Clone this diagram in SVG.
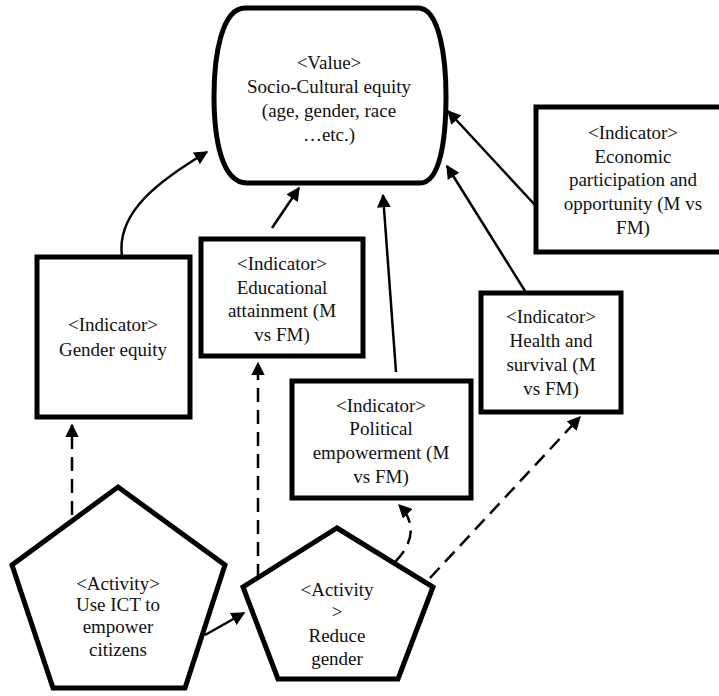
<svg xmlns="http://www.w3.org/2000/svg" width="719" height="696" viewBox="0 0 719 696">
<style>
.n{fill:#fff;stroke:#000;stroke-width:5;stroke-linejoin:miter}
text{font-family:'Liberation Serif','Times New Roman','DejaVu Serif',serif;font-size:19px;fill:#111;text-anchor:middle}
.c{fill:none;stroke:#000;stroke-width:2.5}
.d{stroke-dasharray:14 8}
</style>
<defs>
<marker id="a" viewBox="0 0 10 10" refX="9" refY="5" markerWidth="5.5" markerHeight="5.5" orient="auto" markerUnits="strokeWidth">
<path d="M0,0 L10,5 L0,10 Z" fill="#000"/>
</marker>
</defs>
<rect width="719" height="696" fill="#fff"/>
<g id="connectors">
<path class="c" d="M122,256 C116,212 160,180 207,152" marker-end="url(#a)"/>
<path class="c" d="M272,228 L299,188" marker-end="url(#a)"/>
<path class="c" d="M396,372 L383,195" marker-end="url(#a)"/>
<path class="c" d="M525,291 L447,166" marker-end="url(#a)"/>
<path class="c" d="M535,205 L448,111" marker-end="url(#a)"/>
<path class="c d" d="M72,515 L72,425" marker-end="url(#a)"/>
<path class="c d" d="M258,578 L258,363" marker-end="url(#a)"/>
<path class="c" d="M205,635 L244,613" marker-end="url(#a)"/>
<path class="c d" d="M395,562 C412,545 418,524 399,505" marker-end="url(#a)"/>
<path class="c d" d="M430,578 L580,417" marker-end="url(#a)"/>
</g>
<g id="value">
<path class="n" d="M245,8 H418 C440,8 446,60 446,96 C446,140 440,183 420,183 H247 C222,183 214,140 214,96 C214,55 222,8 245,8 Z"/>
<text x="329" y="69" font-family="Liberation Serif, serif">&lt;Value&gt;</text>
<text x="329" y="93">Socio-Cultural equity</text>
<text x="329" y="117">(age, gender, race</text>
<text x="329" y="141">…etc.)</text>
</g>
<g id="gender">
<rect class="n" x="37" y="257" width="153" height="160"/>
<text x="113" y="331">&lt;Indicator&gt;</text>
<text x="113" y="356">Gender equity</text>
</g>
<g id="education">
<rect class="n" x="201" y="239" width="162" height="117"/>
<text x="282" y="270">&lt;Indicator&gt;</text>
<text x="282" y="294">Educational</text>
<text x="282" y="317">attainment (M</text>
<text x="282" y="341">vs FM)</text>
</g>
<g id="political">
<rect class="n" x="292" y="381" width="179" height="117"/>
<text x="381" y="412">&lt;Indicator&gt;</text>
<text x="381" y="435">Political</text>
<text x="381" y="459">empowerment (M</text>
<text x="381" y="483">vs FM)</text>
</g>
<g id="health">
<rect class="n" x="481" y="293" width="140" height="119"/>
<text x="551" y="323">&lt;Indicator&gt;</text>
<text x="551" y="347">Health and</text>
<text x="551" y="371">survival (M</text>
<text x="551" y="395">vs FM)</text>
</g>
<g id="economic">
<rect class="n" x="536" y="107" width="200" height="145"/>
<text x="633" y="139">&lt;Indicator&gt;</text>
<text x="633" y="163">Economic</text>
<text x="633" y="186">participation and</text>
<text x="633" y="210">opportunity (M vs</text>
<text x="633" y="234">FM)</text>
</g>
<g id="activity-ict">
<polygon class="n" points="118,487 225,565 185,688 53,688 12,565"/>
<text x="118" y="590">&lt;Activity&gt;</text>
<text x="118" y="611">Use ICT to</text>
<text x="118" y="633">empower</text>
<text x="118" y="656">citizens</text>
</g>
<g id="activity-gender">
<polygon class="n" points="337,528 433,587 398,679 278,679 243,587"/>
<text x="337" y="596">&lt;Activity</text>
<text x="337" y="618">&gt;</text>
<text x="337" y="642">Reduce</text>
<text x="337" y="665">gender</text>
</g>
</svg>
